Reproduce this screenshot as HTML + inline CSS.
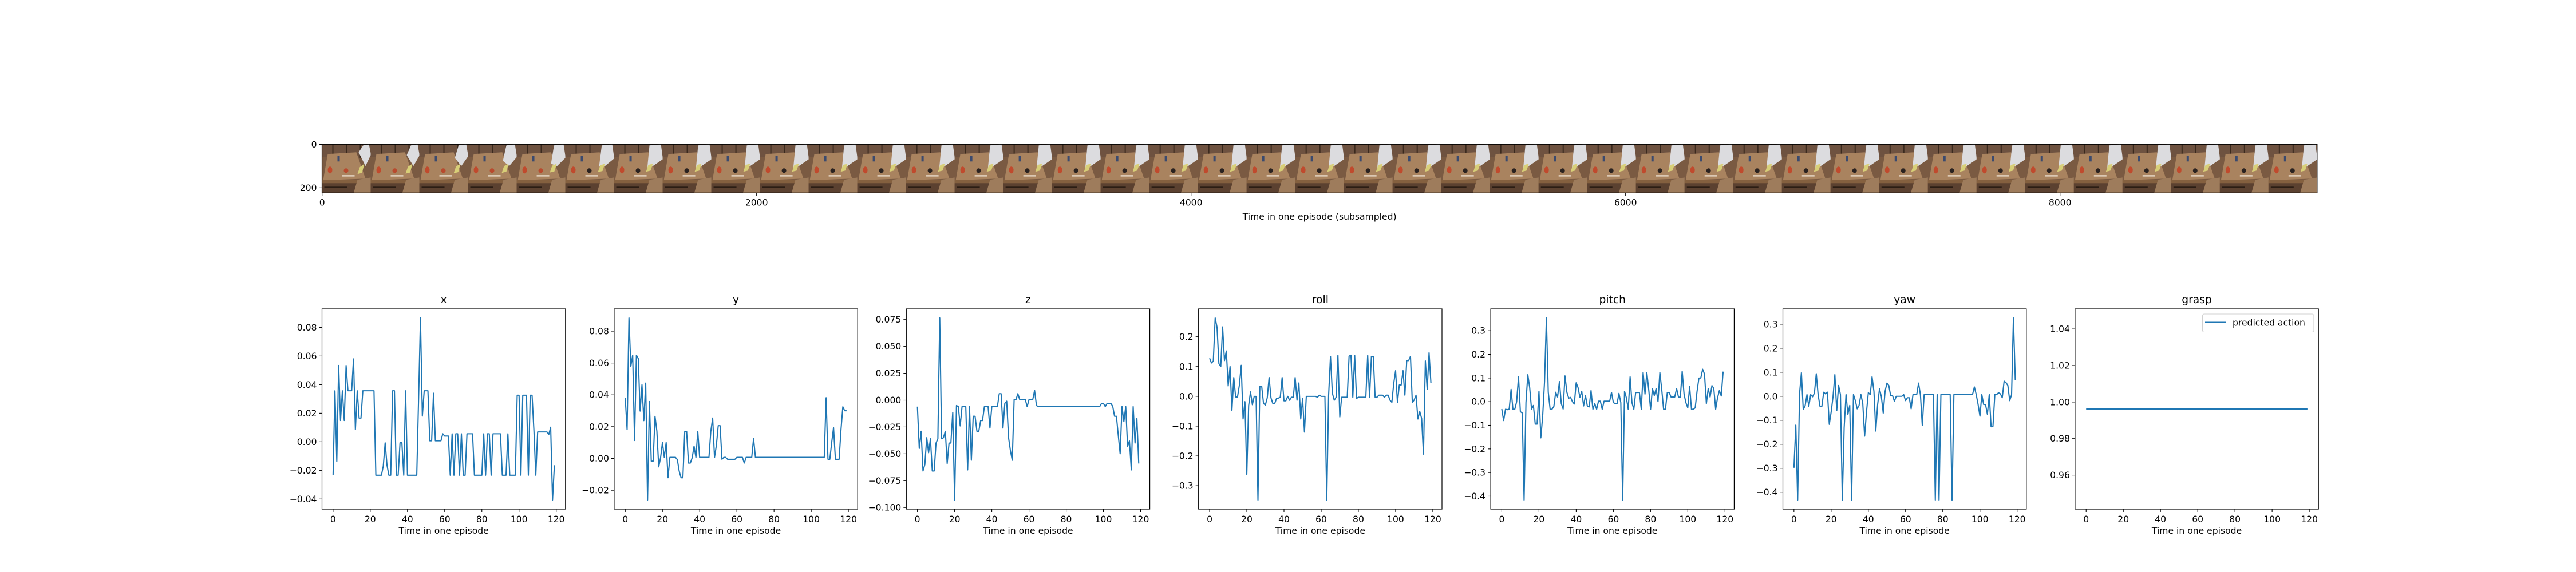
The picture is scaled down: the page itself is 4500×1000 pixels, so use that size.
<!DOCTYPE html>
<html><head><meta charset="utf-8">
<style>
html,body{margin:0;padding:0;background:#fff;}
svg{display:block;font-family:"DejaVu Sans","Liberation Sans",sans-serif;}
</style></head>
<body>
<svg id="fig" xmlns="http://www.w3.org/2000/svg" width="4500" height="1000" viewBox="0 0 4500 1000">
<rect width="4500" height="1000" fill="#fff"/>
<g id="strip"></g>
<g id="plots"></g>
</svg>
<script>
// ---- chart data ----
const xVals = [-0.0234,0.0357,-0.0137,0.0534,0.0149,0.0357,0.0149,0.0534,0.0357,0.0357,
0.0357,0.058,0.0086,0.0357,0.0166,0.0166,0.0357,0.0357,0.0357,0.0357,
0.0357,0.0357,0.0357,-0.0234,-0.0234,-0.0234,-0.0234,-0.017,-0.0007,-0.0164,
-0.0234,-0.0234,0.0357,0.0357,-0.0234,-0.0234,-0.0007,-0.0007,-0.0234,0.0357,
-0.0234,-0.0234,-0.0234,-0.0234,-0.0234,-0.0234,0.031,0.0866,0.018,0.0357,
0.0357,0.0357,0.0007,0.0007,0.034,0.0007,0.0007,0.0007,0.0007,0.0056,
0.004,0.004,0.004,-0.0234,0.0056,-0.0234,0.0056,0.0056,-0.0234,0.0056,
-0.0234,-0.0234,0.0056,0.0056,0.0056,0.0056,-0.0234,-0.0234,-0.0234,-0.0234,
-0.0234,0.0056,-0.0234,0.0056,0.0056,-0.0234,0.0056,0.0056,0.0056,0.0056,
0.0056,-0.0234,-0.0234,-0.0234,0.0056,-0.0234,-0.0234,-0.0234,-0.0234,0.0326,
0.0326,-0.0234,0.0326,0.0326,0.0326,-0.0234,0.0326,0.0326,0.0076,-0.0234,
0.0069,0.0069,0.0069,0.0069,0.0069,0.0069,0.0052,0.0102,-0.0407,-0.0164];
const yVals = [0.0382,0.0182,0.0883,0.058,0.0649,0.0113,0.0649,0.0628,0.0298,0.0463,
0.0238,0.0474,-0.0261,0.0358,-0.0017,-0.0017,0.0265,0.0172,-0.0053,0.0005,
0.01,0.0007,0.01,-0.0121,0.0007,0.0007,0.0007,0.0007,-0.0007,-0.0079,
-0.0121,-0.0121,0.017,0.017,-0.0029,-0.0029,0.0005,0.0077,0.0007,0.017,
0.0007,0.0007,0.0007,0.0007,0.0007,0.0007,0.017,0.0254,0.0007,0.0083,
0.0206,0.0206,-0.0005,0.0007,0.0007,-0.0005,-0.0005,-0.0005,-0.0005,-0.0005,
0.0007,0.0007,0.0007,0.0007,-0.0029,0.0007,0.0007,0.0007,0.0007,0.0125,
0.0007,0.0007,0.0007,0.0007,0.0007,0.0007,0.0007,0.0007,0.0007,0.0007,
0.0007,0.0007,0.0007,0.0007,0.0007,0.0007,0.0007,0.0007,0.0007,0.0007,
0.0007,0.0007,0.0007,0.0007,0.0007,0.0007,0.0007,0.0007,0.0007,0.0007,
0.0007,0.0007,0.0007,0.0007,0.0007,0.0007,0.0007,0.0007,
0.0382,-0.0005,-0.0005,0.01,0.0194,-0.0005,-0.0005,-0.0005,0.018,0.0325,0.03,0.03];
const zVals = [-0.006,-0.045,-0.029,-0.066,-0.06,-0.035,-0.049,-0.036,-0.066,-0.066,
-0.04,-0.036,0.0765,-0.036,-0.035,-0.029,-0.059,-0.04,-0.04,-0.0115,
-0.093,-0.005,-0.006,-0.024,-0.006,-0.006,-0.006,-0.065,-0.006,-0.056,
-0.015,-0.015,-0.029,-0.029,-0.019,-0.019,-0.006,-0.006,-0.006,-0.026,
-0.006,-0.006,-0.006,-0.006,0.006,0.006,-0.026,-0.003,-0.001,-0.035,
-0.047,-0.056,0.0005,0.0005,0.006,0.0005,0.0005,0.0005,0.0005,-0.006,
0.0005,0.0005,0.0005,0.009,-0.005,-0.006,-0.006,-0.006,-0.006,-0.006,
-0.006,-0.006,-0.006,-0.006,-0.006,-0.006,-0.006,-0.006,-0.006,-0.006,
-0.006,-0.006,-0.006,-0.006,-0.006,-0.006,-0.006,-0.006,-0.006,-0.006,
-0.006,-0.006,-0.006,-0.006,-0.006,-0.006,-0.006,-0.006,
-0.006,-0.003,-0.003,-0.006,-0.003,-0.003,-0.003,-0.0057,-0.015,-0.015,-0.033,-0.05,
-0.006,-0.02,-0.006,-0.043,-0.038,-0.065,-0.006,-0.04,-0.017,-0.059];
const rollVals = [0.128,0.112,0.118,0.263,0.232,0.11,0.10,0.233,0.12,0.152,
0.035,0.10,-0.047,0.063,-0.002,-0.002,0.037,0.104,-0.076,-0.018,
-0.262,-0.031,0.015,-0.028,0,0,-0.348,0.034,0.034,-0.024,
-0.029,-0.005,0.063,-0.005,-0.024,-0.024,-0.007,-0.006,-0.003,0.063,
-0.015,-0.015,0,-0.013,-0.003,-0.003,0.063,-0.013,0.045,-0.076,
-0.006,-0.12,0,0,0,0,0,0,-0.003,0.004,
0,0,0,-0.348,0.004,0.134,0.011,-0.013,-0.003,0.138,
-0.069,-0.003,-0.003,-0.003,-0.003,0.135,0.138,-0.003,0.138,-0.007,
-0.003,-0.003,-0.003,-0.003,-0.003,0.138,-0.003,0.134,0.134,-0.003,
-0.003,0.004,0.004,0.004,-0.003,0.004,0.004,-0.013,-0.02,0.043,
0.086,-0.021,0.038,0.038,0.086,0.004,0.12,0.12,0.134,-0.021,
-0.012,0.004,-0.076,-0.051,-0.074,-0.194,0.119,0.024,0.146,0.044];
const pitchVals = [-0.031,-0.08,-0.032,-0.034,-0.031,0.052,-0.032,-0.032,0,0.105,
-0.042,-0.048,-0.416,-0.004,0.114,0.06,-0.032,-0.016,-0.095,-0.095,
0.044,-0.153,-0.06,0.085,0.354,0.04,-0.032,-0.032,-0.02,0.04,
0.02,0.085,-0.008,-0.031,0.109,0.04,0.015,0.018,0,-0.01,
0.08,0.06,0.019,0.044,-0.018,0.026,-0.018,-0.022,0.047,-0.032,
-0.008,-0.032,0.002,0.002,-0.032,0.002,0.002,0.002,0.002,0.039,
-0.004,-0.008,-0.008,0.035,-0.004,-0.416,0.044,0.016,-0.032,0.105,
-0.004,-0.032,0.039,0.039,0.039,-0.032,0.123,0.032,0.123,0.052,
-0.032,0.056,0.026,0.056,0,0.123,0.052,-0.032,-0.032,0.039,
0.039,0.02,0.02,0.02,0.056,0.02,0.018,0.129,0.032,-0.004,
-0.026,0.064,-0.032,-0.032,-0.026,0.044,0.1,0.1,0.137,0.117,
-0.008,0.056,0.02,0.068,0.056,-0.032,0.016,0.047,0.024,0.127];
const yawVals = [-0.298,-0.12,-0.432,0.01,0.098,-0.055,-0.04,0.007,-0.042,0.007,
-0.002,0.013,0.094,0.006,-0.042,-0.042,0.017,0.01,0.017,-0.117,
-0.066,-0.002,0.09,-0.06,0.045,0.007,-0.432,-0.13,0.007,-0.075,
-0.038,-0.432,0.007,-0.018,-0.052,-0.038,0.007,-0.03,-0.166,-0.066,
0.015,0.007,0.081,0.021,-0.145,-0.034,0.031,-0.002,-0.07,0.021,
0.055,0.045,0.002,0.003,-0.021,0,0,0,0,0.007,
-0.018,-0.006,-0.006,-0.052,0.007,0.007,0.007,0.055,0.006,-0.121,
0.007,0.007,0.007,0.007,0.007,0.007,-0.432,0.007,-0.432,0.007,
0.007,0.007,0.007,0.007,0.007,-0.432,0.007,0.007,0.007,0.007,
0.007,0.007,0.007,0.007,0.007,0.007,0.007,0.039,0.007,-0.034,
-0.083,0.007,-0.034,-0.034,-0.075,0.007,-0.127,-0.125,0.007,0.007,
0.015,0.01,-0.006,0.063,0.057,0.045,-0.018,0.006,0.326,0.067];
const graspVals = [0.9962,0.9962,0.9962,0.9962,0.9962,0.9962,0.9962,0.9962,0.9962,0.9962,
0.9962,0.9962,0.9962,0.9962,0.9962,0.9962,0.9962,0.9962,0.9962,0.9962,
0.9962,0.9962,0.9962,0.9962,0.9962,0.9962,0.9962,0.9962,0.9962,0.9962,
0.9962,0.9962,0.9962,0.9962,0.9962,0.9962,0.9962,0.9962,0.9962,0.9962,
0.9962,0.9962,0.9962,0.9962,0.9962,0.9962,0.9962,0.9962,0.9962,0.9962,
0.9962,0.9962,0.9962,0.9962,0.9962,0.9962,0.9962,0.9962,0.9962,0.9962,
0.9962,0.9962,0.9962,0.9962,0.9962,0.9962,0.9962,0.9962,0.9962,0.9962,
0.9962,0.9962,0.9962,0.9962,0.9962,0.9962,0.9962,0.9962,0.9962,0.9962,
0.9962,0.9962,0.9962,0.9962,0.9962,0.9962,0.9962,0.9962,0.9962,0.9962,
0.9962,0.9962,0.9962,0.9962,0.9962,0.9962,0.9962,0.9962,0.9962,0.9962,
0.9962,0.9962,0.9962,0.9962,0.9962,0.9962,0.9962,0.9962,0.9962,0.9962,
0.9962,0.9962,0.9962,0.9962,0.9962,0.9962,0.9962,0.9962,0.9962,0.9962];
const panelTitles = ["x","y","z","roll","pitch","yaw","grasp"];
const xTickVals = [0,20,40,60,80,100,120];
const xTicksX = [-0.04,-0.02,0.00,0.02,0.04,0.06,0.08];
const yTicksY = [-0.02,0.00,0.02,0.04,0.06,0.08];
const zTicks = [-0.100,-0.075,-0.050,-0.025,0.000,0.025,0.050,0.075];
const rollTicks = [-0.3,-0.2,-0.1,0.0,0.1,0.2];
const pitchTicks = [-0.4,-0.3,-0.2,-0.1,0.0,0.1,0.2,0.3];
const yawTicks = [-0.4,-0.3,-0.2,-0.1,0.0,0.1,0.2,0.3];
const graspTicks = [0.96,0.98,1.00,1.02,1.04];
const tickDecimals = [2,2,3,1,1,1,2];
const stripTickVals = [0,2000,4000,6000,8000];
const stripYTickVals = [0,200];

const NS = "http://www.w3.org/2000/svg";
function mk(tag, attrs, parent){ const e=document.createElementNS(NS,tag); for(const k in attrs) e.setAttribute(k,attrs[k]); parent.appendChild(e); return e; }
function fmt(v,d){ const s=Math.abs(v).toFixed(d); return (v<-1e-12?"\u2212":"")+s; }
const FS = 15.6;

// ---- image strip ----
const strip = document.getElementById("strip");
const S0 = 562.5, STop = 252.3, SC = 0.3795, FW = 224, NF = 41;
const stripW = FW*NF*SC, stripH = 224*SC;
const defs = mk("defs",{},strip);
const cp = mk("clipPath",{id:"stripclip"},defs);
mk("rect",{x:S0,y:STop,width:stripW,height:stripH},cp);
const frames = mk("g",{"clip-path":"url(#stripclip)"},strip);
for(let f=0; f<NF; f++){
  const g = mk("g",{transform:`translate(${S0+f*FW*SC},${STop})`},frames);
  
  
  mk("rect",{x:0,y:0,width:85.5,height:85.5,fill:"#7a5a42"},g);
  mk("rect",{x:0,y:0,width:85.5,height:22,fill:"#6e5240"},g);
  [18,42,66].forEach(x=>mk("rect",{x:x,y:0,width:2,height:24,fill:"#3b2a1e"},g));
  mk("polygon",{points:"10,17 60,14 76,60 2,63",fill:"#a9835f"},g);
  mk("rect",{x:0,y:62,width:80,height:6,fill:"#84603f"},g);
  mk("rect",{x:0,y:68,width:62,height:18,fill:"#5b4130"},g);
  mk("polygon",{points:"62,62 85.5,58 85.5,86 55,86",fill:"#9e7c5c"},g);
  mk("rect",{x:4,y:74,width:40,height:2,fill:"#2b1d14"},g);
  mk("rect",{x:35,y:54,width:22,height:2.2,fill:"#f1e7d9"},g);
  mk("ellipse",{cx:14,cy:45,rx:4,ry:6,fill:"#c04a2d"},g);
  mk("circle",{cx:42,cy:46,r:4,fill:f<5?"#b84a2e":"#2a2220"},g);
  mk("rect",{x:27,y:20,width:4,height:10,fill:"#3b4a6e"},g);
  const s = Math.min(f,6)/6;
  mk("polygon",{points:`${72-10*s},${2} ${82},0 ${85.5},${18+8*s} ${76-8*s},${38} ${64-6*s},${30*s+14}`,fill:"#dcdcdf"},g);
  mk("polygon",{points:`${66-6*s},${40-4*s} ${74-6*s},${34} ${70-6*s},${50-4*s} ${62-6*s},${52-4*s}`,fill:"#d8cf78"},g);
}
const sb = mk("rect",{x:S0,y:STop,width:stripW,height:stripH,fill:"none",stroke:"#000","stroke-width":1.2},strip);


stripTickVals.forEach(v=>{
  const x = S0+(v+0.5)*SC;
  mk("line",{x1:x,y1:STop+stripH,x2:x,y2:STop+stripH+5,stroke:"#000","stroke-width":1.1},strip);
  const t = mk("text",{x:x,y:STop+stripH+22,"font-size":FS,"text-anchor":"middle",fill:"#000"},strip);
  t.textContent = String(v);
  
  
});
stripYTickVals.forEach(v=>{
  const y = STop+(v+0.5)*SC;
  mk("line",{x1:S0,y1:y,x2:S0-5,y2:y,stroke:"#000","stroke-width":1.1},strip);
  const t = mk("text",{x:S0-9,y:y+5.5,"font-size":FS,"text-anchor":"end",fill:"#000"},strip);
  t.textContent = String(v);
  
  
});
const sl = mk("text",{x:S0+stripW/2,y:384,"font-size":FS,"text-anchor":"middle",fill:"#000"},strip);
sl.textContent = "Time in one episode (subsampled)";



// ---- subplots ----
const plots = document.getElementById("plots");
const series = [xVals,yVals,zVals,rollVals,pitchVals,yawVals,graspVals];
const yticks = [xTicksX,yTicksY,zTicks,rollTicks,pitchTicks,yawTicks,graspTicks];
const AX0 = 562.5, AW = 425.3, ASTEP = 510.4, AT = 540, AB = 890;
const XMIN = -5.95, XMAX = 124.95;
series.forEach((vals,i)=>{
  const left = AX0+i*ASTEP, right = left+AW;
  const g = mk("g",{},plots);
  
  
  let lo = Math.min(...vals), hi = Math.max(...vals);
  if(hi-lo < 1e-9){ const c=lo; lo = c-0.0548; hi = c+0.0548; }
  else { const m=(hi-lo)*0.05; lo-=m; hi+=m; }
  const sx = v => left + (v-XMIN)/(XMAX-XMIN)*AW;
  const sy = v => AB - (v-lo)/(hi-lo)*(AB-AT);
  const d = vals.map((v,k)=>(k?"L":"M")+sx(k).toFixed(2)+","+sy(v).toFixed(2)).join(" ");
  const p = mk("path",{d:d,fill:"none",stroke:"#1f77b4","stroke-width":2.1,"stroke-linejoin":"round"},g);
  
  
  const fr = mk("rect",{x:left,y:AT,width:AW,height:AB-AT,fill:"none",stroke:"#000","stroke-width":1.2},g);
  
  
  xTickVals.forEach(v=>{
    const x = sx(v);
    mk("line",{x1:x,y1:AB,x2:x,y2:AB+5,stroke:"#000","stroke-width":1.1},g);
    const t = mk("text",{x:x,y:AB+23,"font-size":FS,"text-anchor":"middle",fill:"#000"},g);
    t.textContent = String(v);
    
    
  });
  yticks[i].forEach(v=>{
    const y = sy(v);
    if(y<AT-1||y>AB+1) return;
    mk("line",{x1:left,y1:y,x2:left-5,y2:y,stroke:"#000","stroke-width":1.1},g);
    const t = mk("text",{x:left-9,y:y+5.5,"font-size":FS,"text-anchor":"end",fill:"#000"},g);
    t.textContent = fmt(v,tickDecimals[i]);
    
    
  });
  const tt = mk("text",{x:left+AW/2,y:AT-10,"font-size":18.7,"text-anchor":"middle",fill:"#000"},g);
  tt.textContent = panelTitles[i];
  
  
  const xl = mk("text",{x:left+AW/2,y:AB+43,"font-size":FS,"text-anchor":"middle",fill:"#000"},g);
  xl.textContent = "Time in one episode";
  
  
  if(i===6){
    const lg = mk("g",{},g);
    
    
    mk("rect",{x:3847.5,y:549,width:194.5,height:31.5,rx:3,fill:"#fff","fill-opacity":0.8,stroke:"#d0d0d0","stroke-width":1.1},lg);
    const ll = mk("line",{x1:3852,y1:563.5,x2:3888,y2:563.5,stroke:"#1f77b4","stroke-width":2.1},lg);
    
    
    const lt = mk("text",{x:3900,y:569.5,"font-size":FS,fill:"#000"},lg);
    lt.textContent = "predicted action";
    
    
  }
});
</script>
</body></html>
